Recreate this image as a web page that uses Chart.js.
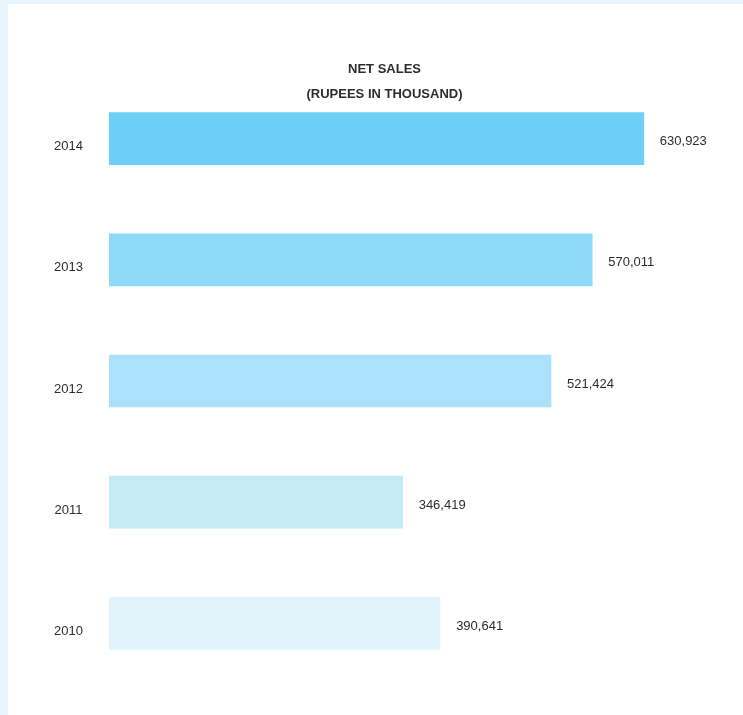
<!DOCTYPE html>
<html>
<head>
<meta charset="utf-8">
<script src="https://cdn.jsdelivr.net/npm/chart.js@4.4.0/dist/chart.umd.min.js"></script>
<style>
  html,body{margin:0;padding:0;}
  body{width:743px;height:715px;background:#e7f4fb;position:relative;overflow:hidden;}
  #panel{position:absolute;left:8px;top:4px;width:735px;height:711px;background:#fff;}
  #wrap{position:absolute;left:0;top:0;width:743px;height:715px;}
</style>
</head>
<body>
<div id="panel"></div>
<div id="wrap"><canvas id="chart" width="743" height="715"></canvas></div>
<script>
// --- Data ---
const years = ['2014','2013','2012','2011','2010'];
const netSales = [630923, 570011, 521424, 346419, 390641];
const barColors = ['#6dcff6','#8ed8f8','#abe1fa','#c7eaf9','#e0f2fa'];
const titleLines = ['NET SALES','(RUPEES IN THOUSAND)'];

const TEXT = '#2d2d2d';
const FONT = '"Liberation Sans", Arial, sans-serif';

// --- title + value labels ---
const labelsPlugin = {
  id:'labels',
  afterDatasetsDraw(chart){
    const {ctx, chartArea} = chart;
    const meta = chart.getDatasetMeta(0);
    ctx.save();
    ctx.fillStyle = TEXT;
    ctx.font = '13px ' + FONT;
    ctx.textAlign = 'left';
    ctx.textBaseline = 'middle';
    meta.data.forEach((bar, i)=>{
      ctx.fillText(netSales[i].toLocaleString('en-US'), bar.x + 16, bar.y + 3);
    });
    // titles
    ctx.font = 'bold 13px ' + FONT;
    ctx.textAlign = 'center';
    const cx = (chartArea.left + chartArea.right)/2;
    ctx.fillText(titleLines[0], cx, 69);
    ctx.fillText(titleLines[1], cx, 94);
    ctx.restore();
  }
};

new Chart(document.getElementById('chart'), {
  type:'bar',
  data:{
    labels: years,
    datasets:[{
      data: netSales,
      backgroundColor: barColors,
      borderWidth: 0,
      barThickness: 52
    }]
  },
  options:{
    indexAxis:'y',
    responsive:false,
    animation:false,
    layout:{ padding:{ left:0, right:83, top:78, bottom:31 } },
    plugins:{ legend:{display:false}, tooltip:{enabled:false}, title:{display:false} },
    scales:{
      x:{ display:false, min:0, max:650000 },
      y:{
        grid:{ display:false },
        border:{ display:false },
        afterFit(s){ s.width = 109; },
        ticks:{
          color: TEXT,
          font:{ family: FONT, size:13 },
          padding: 18,
          crossAlign:'center',
          labelOffset: 8
        }
      }
    }
  },
  plugins:[labelsPlugin]
});
</script>
</body>
</html>
